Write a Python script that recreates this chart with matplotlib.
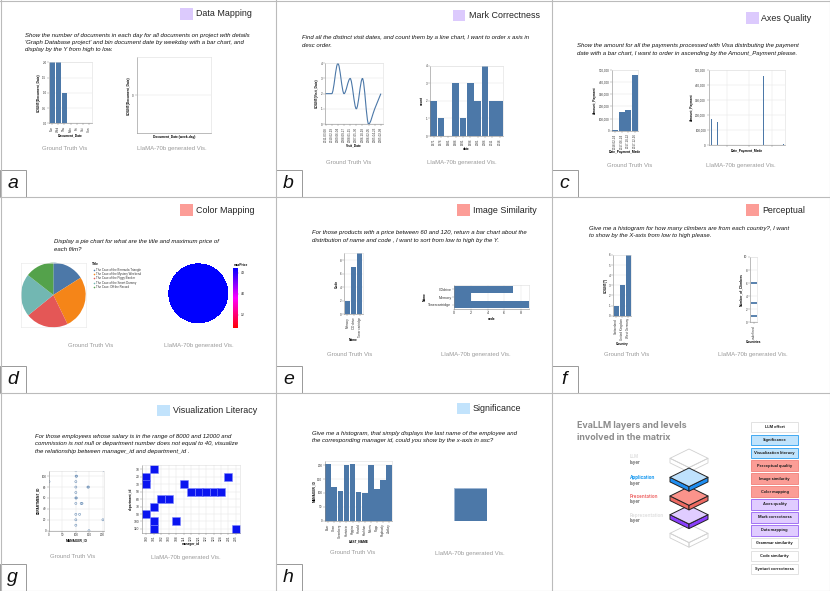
import numpy as np
import matplotlib.pyplot as plt
from matplotlib.patches import Rectangle, Polygon, PathPatch
from matplotlib.path import Path
from matplotlib.colors import LinearSegmentedColormap, Normalize
from matplotlib.cm import ScalarMappable
from matplotlib.ticker import FuncFormatter, MaxNLocator

plt.rcParams['font.family'] = ['Liberation Sans', 'DejaVu Sans']

W, H = 830, 591
BLUE = '#4c78a8'
PURPLE_SW = '#dccafd'
SALMON_SW = '#fc9d97'
LBLUE_SW = '#c2e3fc'

# ---------------- data ----------------
# a - Data Mapping
a_days = ['Tue', 'Wed', 'Thu', 'Mon', 'Fri', 'Sat', 'Sun']
a_counts = [2, 2, 1, 0, 0, 0, 0]

# b - Mark Correctness
b_dates = ['2011-03-08', '2010-02-19', '2009-06-04', '2008-09-27', '2008-01-15',
           '2007-05-30', '2006-10-18', '2006-02-05', '2005-04-23', '2005-02-08']
b_counts = [2, 2, 4, 2, 3, 1, 3, 0, 1, 2]
b_llama_years = ['1971', '1976', '1981', '1986', '1991', '1996', '2001', '2006', '2011', '2016']
b_llama_counts = [2, 1, 0, 3, 1, 3, 2, 4, 2, 2]

# c - Axes Quality
c_dates = ['2018-02-24', '2017-06-24', '2017-10-22', '2017-12-16']
c_amounts = [5000, 155000, 172000, 460000]
c_llama_days = [15, 45, 296, 404]
c_llama_amounts = [172000, 155000, 460000, 8000]

# d - Color Mapping
d_titles = ['The Case of the Bermuda Triangle', 'The Case of the Mystery Weekend',
            'The Case of the Piggy Banker', 'The Case of the Smart Dummy',
            'The Case: Off the Record']
d_max_price = [2.99, 4.99, 3.99, 3.99, 2.69]
d_colors = ['#4c78a8', '#f58518', '#e45756', '#72b7b2', '#54a24b']

# e - Image Similarity
e_names = ['Memory', 'CD drive', 'Toner cartridge']
e_codes = [2, 7, 9]
e_llama_names = ['CDdrive', 'Memory', 'Tonercartridge']
e_llama_codes = [7, 2, 9]

# f - Perceptual
f_countries = ['Switzerland', 'United Kingdom', 'West Germany']
f_counts = [1, 3, 6]
f_llama_country = ['undefined', 'undefined', 'undefined']
f_llama_climbers = [1, 3, 6]

# g - Visualization Literacy
g_manager = [100, 103, 101, 100, 100, 100, 100, 102, 100, 100, 100, 100,
             145, 147, 120, 123, 114, 149, 205, 201, 0]
g_dept = [110, 100, 100, 90, 80, 70, 60, 60, 50, 30, 20, 10,
          80, 80, 50, 50, 30, 0, 110, 20, 90]
g_llama_mgr_cats = ['100', '101', '102', '103', '108', '114', '120', '121',
                    '122', '123', '124', '201', '205']
g_llama_dept_cats = ['10', '20', '30', '50', '60', '70', '90', '100', '110']
g_llama_mgr = ['100', '100', '100', '101', '101', '101', '101', '102', '103',
               '108', '114', '120', '121', '122', '123', '124', '201', '205']
g_llama_dept = ['20', '30', '90', '10', '70', '100', '110', '60', '60',
                '100', '30', '50', '50', '50', '50', '50', '20', '110']

# h - Significance
h_names = ['Baer', 'Chen', 'Greenberg', 'Hartstein', 'Higgins', 'Hunold',
           'Kochhar', 'Mavris', 'Popp', 'Raphaely', 'Zlotkey']
h_manager = [204, 120, 108, 201, 205, 103, 100, 201, 113, 145, 200]
h_llama_bar = [1]

# i - EvaLLM layers
i_levels = ['LLM effort', 'Significance', 'Visualization literacy', 'Perceptual quality',
            'Image similarity', 'Color mapping', 'Axes quality', 'Mark correctness',
            'Data mapping', 'Grammar similarity', 'Code similarity', 'Syntact correctness']
i_level_group = ['none', 'app', 'app', 'pres', 'pres', 'pres', 'rep', 'rep', 'rep',
                 'none', 'none', 'none']
i_layers = [('LLM', '#e2e2e2'), ('Application', '#1a9af0'),
            ('Presentation', '#f07373'), ('Representation', '#e2e2e2')]

# ---------------- helpers ----------------
fig = plt.figure(figsize=(8.3, 5.91), dpi=100)
bg = fig.add_axes([0, 0, 1, 1])
bg.set_xlim(0, W)
bg.set_ylim(H, 0)
bg.axis('off')


def px_ax(x0, y0, x1, y1):
    return fig.add_axes([x0 / W, 1 - y1 / H, (x1 - x0) / W, (y1 - y0) / H])


def vega(ax, grid='y', fs=2.2):
    for s in ax.spines.values():
        s.set_color('#dddddd')
        s.set_linewidth(0.4)
    ax.spines['left'].set_color('#888888')
    ax.spines['bottom'].set_color('#888888')
    ax.tick_params(length=1.2, width=0.3, color='#888888', labelsize=fs,
                   pad=0.8, labelcolor='#333333')
    if grid:
        ax.grid(True, axis=grid, color='#e6e6e6', lw=0.35)
    ax.set_axisbelow(True)


def labels(ax, xl, yl, fs=2.3):
    ax.set_xlabel(xl, fontsize=fs, fontweight='bold', labelpad=1)
    ax.set_ylabel(yl, fontsize=fs, fontweight='bold', labelpad=1)


def thousands(v, pos):
    return f'{int(v):,}'


def monotone_path(xs, ys):
    d = np.diff(ys) / np.diff(xs)
    m = np.zeros(len(xs))
    m[0], m[-1] = d[0], d[-1]
    for k in range(1, len(xs) - 1):
        m[k] = 0 if d[k - 1] * d[k] <= 0 else (d[k - 1] + d[k]) / 2
    verts = [(xs[0], ys[0])]
    codes = [Path.MOVETO]
    for k in range(len(xs) - 1):
        dx = xs[k + 1] - xs[k]
        verts += [(xs[k] + dx / 3, ys[k] + m[k] * dx / 3),
                  (xs[k + 1] - dx / 3, ys[k + 1] - m[k + 1] * dx / 3),
                  (xs[k + 1], ys[k + 1])]
        codes += [Path.CURVE4] * 3
    return Path(verts, codes)


# ---------------- frame, titles, captions ----------------
for x in [0.5, 276, 552, 829.5]:
    bg.plot([x, x], [0, H], color='#bbbbbb', lw=0.8)
for y in [0.5, 196.5, 393, 590.5]:
    bg.plot([0, W], [y, y], color='#bbbbbb', lw=0.8)

cols = [0, 276, 552]
bottoms = [196.5, 393, 590.5]
for k, letter in enumerate('abcdefgh'):
    x0 = cols[k % 3]
    yb = bottoms[k // 3]
    bg.add_patch(Rectangle((x0, yb - 27), 25.5, 27, fc='white', ec='#999999', lw=0.7))
    bg.text(x0 + 12.5, yb - 13.5, letter, fontsize=14, style='italic',
            ha='center', va='center', color='#111111')

titles = [
    (180, 8.3, PURPLE_SW, 'Data Mapping', 196, 13.7),
    (452.7, 10, PURPLE_SW, 'Mark Correctness', 468.7, 15.7),
    (746, 12.3, PURPLE_SW, 'Axes Quality', 761.3, 18.3),
    (180, 204.3, SALMON_SW, 'Color Mapping', 196, 210.7),
    (457, 204.3, SALMON_SW, 'Image Similarity', 472.7, 210.7),
    (746.3, 204.3, SALMON_SW, 'Perceptual', 762, 210.7),
    (157.3, 404.7, LBLUE_SW, 'Visualization Literacy', 172.7, 410.7),
    (457, 403, LBLUE_SW, 'Significance', 472.7, 408.7),
]
for sx, sy, col, txt, tx, ty in titles:
    bg.add_patch(Rectangle((sx, sy), 12.7, 11.3, fc=col, ec='none'))
    bg.text(tx, ty, txt, fontsize=6.4, va='center', ha='left', color='#222222')

questions = [
    (25, 35.3, ["Show the number of documents in each day for all documents on project with details",
                "'Graph Database project' and bin document date by weekday with a bar chart, and",
                "display by the Y from high to low."]),
    (301.7, 38, ["Find all the distinct visit dates, and count them by a line chart, I want to order x axis in",
                 "desc order."]),
    (577, 46, ["Show the amount for all the payments processed with Visa distributing the payment",
               "date with a bar chart, I want to order in ascending by the Amount_Payment please."]),
    (54, 241.7, ["Display a pie chart for what are the title and maximum price of",
                 "each film?"]),
    (311.7, 232.7, ["For those products with a price between 60 and 120, return a bar chart about the",
                    "distribution of name and code , I want to sort from low to high by the Y."]),
    (588.7, 228.3, ["Give me a histogram for how many climbers are from each country?, I want",
                    "to show by the X-axis from low to high please."]),
    (35, 436.3, ["For those employees whose salary is in the range of 8000 and 12000 and",
                 "commission is not null or department number does not equal to 40, visualize",
                 "the relationship between manager_id and department_id ."]),
    (311.7, 433, ["Give me a histogram, that simply displays the last name of the employee and",
                  "the corresponding manager id, could you show by the x-axis in asc?"]),
]
for qx, qy, lines in questions:
    for n, line in enumerate(lines):
        bg.text(qx, qy + n * 7.35, line, fontsize=4.3, style='italic',
                va='center', ha='left', color='#111111')

captions = [(65, 172.3, 148.3), (348.7, 462, 162.3), (629.3, 741.3, 165.7),
            (91, 198.7, 345.7), (349.3, 476, 354.3), (626.3, 753, 354.3),
            (72.3, 185.7, 557), (352.7, 470, 553)]
for gx, lx, cy in captions:
    bg.text(gx, cy, 'Ground Truth Vis', fontsize=4.3, color='#9a9a9a', ha='center', va='center')
    bg.text(lx, cy, 'LlaMA-70b generated Vis.', fontsize=4.3, color='#9a9a9a', ha='center', va='center')

# ---------------- a ----------------
ax = px_ax(49.3, 62.3, 91.7, 123.3)
xa = np.arange(len(a_days))
ax.bar(xa, a_counts, width=0.9, color=BLUE)
ax.set_xlim(-0.5, len(a_days) - 0.5)
ax.set_ylim(0, 2)
ax.set_xticks(xa, a_days, rotation=90)
ax.set_yticks([0, 0.5, 1, 1.5, 2], ['0.0', '0.5', '1.0', '1.5', '2.0'])
vega(ax)
labels(ax, 'Document_Date', 'COUNT(Document_Date)')

ax = px_ax(136.7, 57.3, 211, 133.3)
ax.set_ylim(-1, 1)
ax.set_yticks([0], ['0'])
ax.set_xticks([])
vega(ax)
labels(ax, 'Document_Date (week-day)', 'COUNT(Document_Date)')

# ---------------- b ----------------
ax = px_ax(325, 63.3, 382.7, 124)
xb = np.arange(len(b_dates))
ax.add_patch(PathPatch(monotone_path(xb.astype(float), np.array(b_counts, float)),
                       fc='none', ec=BLUE, lw=0.8))
ax.set_xlim(-0.1, len(b_dates) - 0.7)
ax.set_ylim(0, 4)
ax.set_xticks(xb, b_dates, rotation=90)
ax.set_yticks(range(5))
vega(ax)
labels(ax, 'Visit_Date', 'COUNT(Visit_Date)')

ax = px_ax(430, 65.7, 503.3, 136)
xb2 = np.arange(len(b_llama_years))
ax.bar(xb2, b_llama_counts, width=0.9, color=BLUE)
ax.set_xlim(-0.5, len(b_llama_years) - 0.5)
ax.set_ylim(0, 4)
ax.set_xticks(xb2, b_llama_years, rotation=90)
ax.set_yticks(range(5))
vega(ax)
labels(ax, 'date', 'count')

# ---------------- c ----------------
ax = px_ax(612, 70, 638, 130.7)
xc = np.arange(len(c_dates))
ax.bar(xc, c_amounts, width=0.9, color=BLUE)
ax.set_xlim(-0.5, len(c_dates) - 0.5)
ax.set_ylim(0, 500000)
ax.set_xticks(xc, c_dates, rotation=90)
ax.set_yticks(range(0, 500001, 100000))
ax.yaxis.set_major_formatter(FuncFormatter(thousands))
vega(ax)
labels(ax, 'Date_Payment_Made', 'Amount_Payment')

ax = px_ax(708.7, 70, 785.3, 145.3)
ax.bar(c_llama_days, c_llama_amounts, width=6, color=BLUE)
ax.set_xlim(0, 412)
ax.set_ylim(0, 500000)
ax.set_xticks([99, 218, 342], ['', '', ''])
ax.set_yticks(range(0, 500001, 100000))
ax.yaxis.set_major_formatter(FuncFormatter(thousands))
vega(ax, grid='both')
labels(ax, 'Date_Payment_Made', 'Amount_Payment')

# ---------------- d ----------------
ax = px_ax(21, 262.7, 85.7, 327.3)
ax.pie(d_max_price, colors=d_colors, startangle=90, counterclock=False,
       wedgeprops=dict(lw=0))
ax.set_xlim(-1.0, 1.0)
ax.set_ylim(-1.0, 1.0)
ax.set_frame_on(True)
for s in ax.spines.values():
    s.set_color('#e6e6e6')
    s.set_linewidth(0.4)

bg.text(91.7, 264, 'Title', fontsize=2.3, fontweight='bold', va='center')
for n, (t, c) in enumerate(zip(d_titles, d_colors)):
    yy = 269.7 + n * 4.33
    bg.scatter([93.6], [yy], s=1.3, color=c, lw=0)
    bg.text(96.2, yy, t, fontsize=2.1, va='center', color='#333333')

# every film ends up in the same colour, so the slices merge into one disc
ax = px_ax(168.3, 263.3, 228.3, 323.3)
ax.pie(d_max_price, colors=['#0000ff'] * len(d_max_price), startangle=90,
       counterclock=False, wedgeprops=dict(lw=1.2, ec='#0000ff', antialiased=False))
ax.pie([1], colors=['none'], radius=1.0, wedgeprops=dict(lw=0.6, ec='#0000ff'))
ax.set_xlim(-1.05, 1.05)
ax.set_ylim(-1.05, 1.05)

cax = px_ax(233.3, 267.7, 238, 328.3)
cmap = LinearSegmentedColormap.from_list('rp', ['#ff0000', '#ff00ff', '#0000ff'])
cb = fig.colorbar(ScalarMappable(norm=Normalize(min(d_max_price), max(d_max_price)), cmap=cmap),
                  cax=cax)
cb.outline.set_visible(False)
cb.locator = MaxNLocator(3)
cb.update_ticks()
cax.tick_params(labelsize=2, length=1, width=0.3, pad=0.8, color='#888888')
bg.text(233.3, 265.2, 'maxPrice', fontsize=2.3, fontweight='bold', va='center')

# ---------------- e ----------------
ax = px_ax(344.3, 253.3, 362.7, 314)
xe = np.arange(len(e_names))
ax.bar(xe, e_codes, width=0.9, color=BLUE)
ax.set_xlim(-0.5, len(e_names) - 0.5)
ax.set_ylim(0, 9)
ax.set_xticks(xe, e_names, rotation=90)
ax.set_yticks([0, 2, 4, 6, 8])
vega(ax)
labels(ax, 'Name', 'Code')

ax = px_ax(454.3, 285.3, 529.3, 308.7)
ye = np.arange(len(e_llama_names))
ax.barh(ye, e_llama_codes, height=0.9, color=BLUE)
ax.set_ylim(len(e_llama_names) - 0.5, -0.5)
ax.set_xlim(0, 9)
ax.set_yticks(ye, e_llama_names)
ax.set_xticks([0, 2, 4, 6, 8])
vega(ax, grid='x', fs=2.6)
labels(ax, 'code', 'Name')

# ---------------- f ----------------
ax = px_ax(613.3, 255, 631.3, 315.7)
xf = np.arange(len(f_countries))
ax.bar(xf, f_counts, width=0.9, color=BLUE)
ax.set_xlim(-0.5, len(f_countries) - 0.5)
ax.set_ylim(0, 6)
ax.set_xticks(xf, f_countries, rotation=90)
ax.set_yticks(range(7))
vega(ax)
labels(ax, 'Country', 'COUNT(*)')

ax = px_ax(750.3, 257, 757, 322.3)
f_cats = sorted(set(f_llama_country))
ax.scatter([f_cats.index(c) for c in f_llama_country], f_llama_climbers,
           marker='_', s=14, linewidths=1.3, color=BLUE)
ax.set_xlim(-0.5, 0.5)
ax.set_ylim(0, 10)
ax.set_xticks(range(len(f_cats)), f_cats, rotation=90)
ax.set_yticks(range(0, 11, 2))
vega(ax)
labels(ax, 'Countries', 'Number_of_Climbers')

# ---------------- g ----------------
ax = px_ax(49, 470.7, 104, 530.7)
ax.scatter(g_manager, g_dept, s=2.2, facecolors='none', edgecolors=BLUE,
           linewidths=0.4, alpha=0.8)
ax.set_xlim(0, 205)
ax.set_ylim(0, 110)
ax.set_xticks([0, 50, 100, 150, 200])
ax.set_yticks(range(0, 101, 20))
vega(ax, grid='both')
labels(ax, 'MANAGER_ID', 'DEPARTMENT_ID')

ax = px_ax(142.3, 464.7, 240, 532.7)
gx = [g_llama_mgr_cats.index(v) for v in g_llama_mgr]
gy = [g_llama_dept_cats.index(v) for v in g_llama_dept]
ax.scatter(gx, gy, marker='s', s=34, color='#0a14f0', edgecolors='#7d86ff', linewidths=0.4)
ax.set_xlim(-0.55, len(g_llama_mgr_cats) - 0.45)
ax.set_ylim(len(g_llama_dept_cats) - 0.5, -0.6)
ax.set_xticks(range(len(g_llama_mgr_cats)), g_llama_mgr_cats, rotation=90)
ax.set_yticks(range(len(g_llama_dept_cats)), g_llama_dept_cats)
vega(ax, grid='both', fs=2.4)
labels(ax, 'manager_id', 'department_id')

# ---------------- h ----------------
ax = px_ax(325, 460.7, 392.3, 520.7)
xh = np.arange(len(h_names))
ax.bar(xh, h_manager, width=0.9, color=BLUE)
ax.set_xlim(-0.5, len(h_names) - 0.5)
ax.set_ylim(0, 216)
ax.set_xticks(xh, h_names, rotation=90)
ax.set_yticks(range(0, 201, 50))
vega(ax)
labels(ax, 'LAST_NAME', 'MANAGER_ID')

ax = px_ax(454.3, 488, 487.3, 521)
ax.bar([0], h_llama_bar, width=1, color=BLUE, edgecolor='#9db6d3', lw=0.6)
ax.set_xlim(-0.5, 0.5)
ax.set_ylim(0, 1)
ax.axis('off')

# ---------------- i ----------------
bg.text(577, 425.7, 'EvaLLM layers and levels', fontsize=6.4, fontweight='bold',
        color='#8c8c8c', family=['Inter', 'DejaVu Sans'], va='center')
bg.text(577, 437.3, 'involved in the matrix', fontsize=6.4, fontweight='bold',
        color='#8c8c8c', family=['Inter', 'DejaVu Sans'], va='center')

label_y = [457, 478, 496.3, 515]
for (name, col), ly in zip(i_layers, label_y):
    bg.text(630, ly, name, fontsize=3.3, fontweight='bold', color=col,
            family=['Inter', 'DejaVu Sans'], va='center')
    bg.text(630, ly + 5.7, 'layer', fontsize=3.3, color='#333333',
            family=['Inter', 'DejaVu Sans'], va='center')

cx, a, b, t = 689, 19, 9.3, 4.6
stack = [  # corner y, top colour, side colour, edge colour, zorder
    (533.3, 'none', 'none', '#d0d0d0', 1),
    (458.3, 'none', 'none', '#d0d0d0', 1),
    (514.7, '#e0ccff', '#8a3ffc', '#222222', 2),
    (496.0, '#fb938b', '#ee6a62', '#222222', 3),
    (477.3, '#bfe2fd', '#1f8ef1', '#222222', 4),
]
for cy, top, side, edge, z in stack:
    lw = 0.7 if edge == '#222222' else 0.6
    left = [(cx - a, cy), (cx, cy + b), (cx, cy + b + t), (cx - a, cy + t)]
    right = [(cx, cy + b), (cx + a, cy), (cx + a, cy + t), (cx, cy + b + t)]
    topf = [(cx - a, cy), (cx, cy - b), (cx + a, cy), (cx, cy + b)]
    for poly, fc in [(left, side), (right, side), (topf, top)]:
        bg.add_patch(Polygon(poly, closed=True, fc=fc, ec=edge, lw=lw,
                             zorder=z, joinstyle='round'))

group_style = {'none': ('white', '#e2e2e2'), 'app': ('#c0e3fc', '#42a9f2'),
               'pres': ('#fb9d96', '#f28a84'), 'rep': ('#e0ccff', '#a274f4')}
for n, (lvl, grp) in enumerate(zip(i_levels, i_level_group)):
    yc = 427 + n * 12.9
    fc, ec = group_style[grp]
    bg.add_patch(Rectangle((751, yc - 5.3), 47, 10.6, fc=fc, ec=ec, lw=0.7))
    bg.text(774.5, yc, lvl, fontsize=2.8, fontweight='bold', color='#222222',
            family=['Inter', 'DejaVu Sans'], ha='center', va='center')

fig.savefig('out.png', dpi=100)
